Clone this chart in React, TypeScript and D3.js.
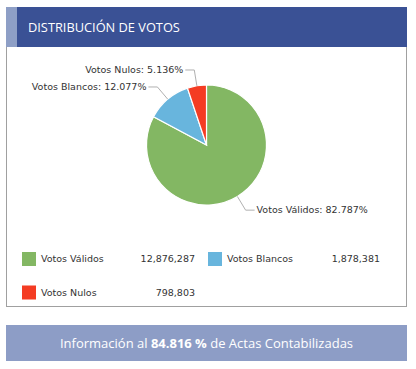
import * as d3 from 'd3';

const categories = ['Votos Válidos', 'Votos Blancos', 'Votos Nulos'];
const votes = [12876287, 1878381, 798803];
const percents = [82.787, 12.077, 5.136];
const colors = ['#83b763', '#68b5dd', '#f43c23'];
const title = 'DISTRIBUCIÓN DE VOTOS';
const actasPct = '84.816 %';

const W = 416;
const H = 369;
const cx = 206.5;
const cy = 145;
const r = 60;

const labelFont = '"DejaVu Sans", Verdana, sans-serif';
const uiFont = '"Open Sans", "Noto Sans", sans-serif';

export default function App() {
  const pie = d3.pie<number>().sort(null).value((d) => d)(percents);
  const arc = d3.arc<d3.PieArcDatum<number>>().innerRadius(0).outerRadius(r);
  const fmt = d3.format(',');

  // legend layout
  const legendCols = [22, 208];
  const legendRows = [259, 292.5];
  const valueRight = [195, 380];

  return (
    <div style={{ position: 'absolute', left: 0, top: 0 }}>
      <svg width={W} height={H} style={{ display: 'block', background: '#fff' }}>
        {/* card */}
        <rect x={6.5} y={46.5} width={400} height={260} fill="#fff" stroke="#a0a0a0" />
        <rect x={6} y={7} width={401} height={40} fill="#3a5195" />
        <rect x={6} y={7} width={11} height={40} fill="#8e9fc6" />
        <text x={28} y={32} fill="#fff" fontFamily={uiFont} fontSize={12.8}>
          {title}
        </text>

        {/* pie */}
        <g transform={`translate(${cx},${cy})`}>
          {pie.map((d, i) => (
            <path key={i} d={arc(d) || ''} fill={colors[i]} stroke="#fff" strokeWidth={1.2} />
          ))}
          {pie.map((d, i) => {
            const a = (d.startAngle + d.endAngle) / 2;
            const sx = r * Math.sin(a);
            const sy = -r * Math.cos(a);
            const er = r + 16;
            const ex = er * Math.sin(a);
            const ey = -er * Math.cos(a);
            const side = Math.sin(a) >= 0 ? 1 : -1;
            const hx = ex + side * 9;
            return (
              <g key={i}>
                <polyline
                  points={`${sx},${sy} ${ex},${ey} ${hx},${ey}`}
                  fill="none"
                  stroke="#b0b0b0"
                  strokeWidth={1}
                />
                <text
                  x={hx + side * 2}
                  y={ey}
                  dy="0.35em"
                  textAnchor={side > 0 ? 'start' : 'end'}
                  fontFamily={labelFont}
                  fontSize={9.5}
                  fill="#333"
                >
                  {`${categories[i]}: ${percents[i]}%`}
                </text>
              </g>
            );
          })}
        </g>

        {/* legend */}
        {categories.map((c, i) => {
          const col = i % 2;
          const row = Math.floor(i / 2);
          const x = legendCols[col];
          const y = legendRows[row];
          return (
            <g key={c}>
              <rect x={x} y={y - 7} width={14} height={14} fill={colors[i]} />
              <text x={x + 19} y={y} dy="0.35em" fontFamily={labelFont} fontSize={9.5} fill="#333">
                {c}
              </text>
              <text
                x={valueRight[col]}
                y={y}
                dy="0.35em"
                textAnchor="end"
                fontFamily={labelFont}
                fontSize={9.5}
                fill="#333"
              >
                {fmt(votes[i])}
              </text>
            </g>
          );
        })}

        {/* footer */}
        <rect x={6} y={325} width={401} height={36} fill="#8d9dc6" />
        <text x={206.5} y={343} dy="0.35em" textAnchor="middle" fill="#fff" fontFamily={uiFont} fontSize={13}>
          Información al <tspan fontWeight="bold">{actasPct}</tspan> de Actas Contabilizadas
        </text>
      </svg>
    </div>
  );
}
